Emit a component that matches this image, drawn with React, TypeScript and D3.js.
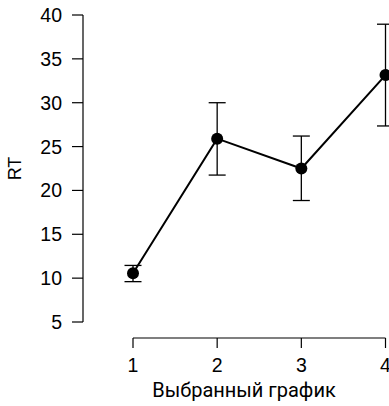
import React, { useEffect, useRef } from 'react';
import * as d3 from 'd3';

const conditions = [1, 2, 3, 4];
const meanRT = [10.55, 25.9, 22.5, 33.15];
const lowerRT = [9.6, 21.75, 18.85, 27.35];
const upperRT = [11.45, 30.0, 26.2, 38.95];
const yTicks = [5, 10, 15, 20, 25, 30, 35, 40];
const xLabel = 'Выбранный график';
const yLabel = 'RT';

const W = 389;
const H = 406;

export default function App() {
	const ref = useRef<SVGSVGElement>(null);

	useEffect(() => {
		const svg = d3.select(ref.current);
		svg.selectAll('*').remove();

		const x = d3.scaleLinear().domain([1, 4]).range([133, 385.5]);
		const y = d3.scaleLinear().domain([5, 40]).range([322, 15]);
		const font = 'Liberation Sans, Arial, sans-serif';

		// y axis
		const yAxis = svg.append('g');
		yAxis
			.append('line')
			.attr('x1', 83)
			.attr('x2', 83)
			.attr('y1', y(5))
			.attr('y2', y(40))
			.attr('stroke', '#000')
			.attr('stroke-width', 1.2);
		yTicks.forEach(t => {
			yAxis
				.append('line')
				.attr('x1', 72)
				.attr('x2', 83)
				.attr('y1', y(t))
				.attr('y2', y(t))
				.attr('stroke', '#000')
				.attr('stroke-width', 1.2);
			yAxis
				.append('text')
				.attr('x', 62)
				.attr('y', y(t))
				.attr('dy', '0.36em')
				.attr('text-anchor', 'end')
				.attr('font-family', font)
				.attr('font-size', 19.5)
				.text(t);
		});

		// x axis
		const xAxis = svg.append('g');
		xAxis
			.append('line')
			.attr('x1', x(1))
			.attr('x2', x(4))
			.attr('y1', 338)
			.attr('y2', 338)
			.attr('stroke', '#000')
			.attr('stroke-width', 1.2);
		conditions.forEach(c => {
			xAxis
				.append('line')
				.attr('x1', x(c))
				.attr('x2', x(c))
				.attr('y1', 338)
				.attr('y2', 348)
				.attr('stroke', '#000')
				.attr('stroke-width', 1.2);
			xAxis
				.append('text')
				.attr('x', x(c))
				.attr('y', 372)
				.attr('text-anchor', 'middle')
				.attr('font-family', font)
				.attr('font-size', 19.5)
				.text(c);
		});

		svg
			.append('text')
			.attr('x', 244)
			.attr('y', 396.5)
			.attr('text-anchor', 'middle')
			.attr('font-family', 'Roboto, Noto Sans, sans-serif')
			.attr('font-size', 20)
			.text(xLabel);

		svg
			.append('text')
			.attr('transform', `translate(20.5,168.5) rotate(-90)`)
			.attr('text-anchor', 'middle')
			.attr('font-family', font)
			.attr('font-size', 18)
			.text(yLabel);

		// error bars
		const g = svg.append('g');
		conditions.forEach((c, i) => {
			const cx = x(c);
			g.append('line')
				.attr('x1', cx)
				.attr('x2', cx)
				.attr('y1', y(lowerRT[i]))
				.attr('y2', y(upperRT[i]))
				.attr('stroke', '#000')
				.attr('stroke-width', 1.3);
			[lowerRT[i], upperRT[i]].forEach(v => {
				g.append('line')
					.attr('x1', cx - 8.5)
					.attr('x2', cx + 8.5)
					.attr('y1', y(v))
					.attr('y2', y(v))
					.attr('stroke', '#000')
					.attr('stroke-width', 1.3);
			});
		});

		const line = d3
			.line<number>()
			.x((d, i) => x(conditions[i]))
			.y(d => y(d));
		g.append('path')
			.attr('d', line(meanRT))
			.attr('fill', 'none')
			.attr('stroke', '#000')
			.attr('stroke-width', 2);

		g.selectAll('circle')
			.data(meanRT)
			.enter()
			.append('circle')
			.attr('cx', (d, i) => x(conditions[i]))
			.attr('cy', d => y(d))
			.attr('r', 6)
			.attr('fill', '#000');
	}, []);

	return (
		<svg
			ref={ref}
			width={W}
			height={H}
			style={{ position: 'absolute', left: 0, top: 0, background: '#fff' }}
		/>
	);
}
